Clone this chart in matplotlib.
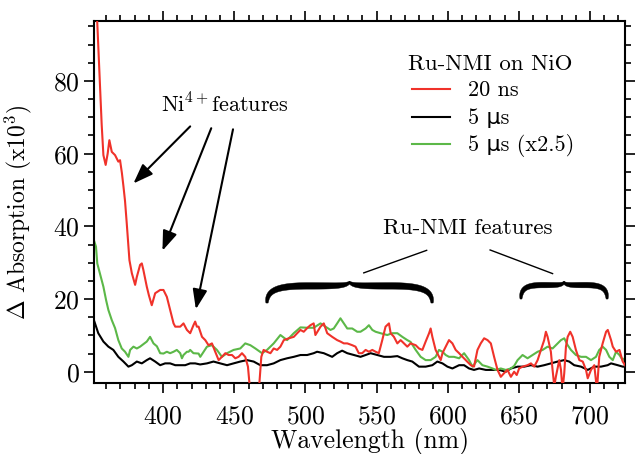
import numpy as np
import matplotlib
matplotlib.use("Agg")
import matplotlib.pyplot as plt

plt.rcParams['font.family'] = ['cmr10', 'DejaVu Sans']
plt.rcParams['mathtext.fontset'] = 'cm'
plt.rcParams['axes.unicode_minus'] = False
plt.rcParams['axes.formatter.use_mathtext'] = True

# ---------------- data ----------------
red_wl = [351, 353.7, 355.5, 356.8, 358, 359.6, 361, 362.2, 363.9, 366.2, 368.5, 369.7, 371, 372.1, 373.2,
          374.4, 376.3, 378, 380.3, 381.5, 383.8, 385, 386.1, 388.5, 390, 392, 394.4, 397.9, 400.2, 402.6,
          404.9, 407.3, 408.5, 412, 414.3, 416.7, 419, 421.3, 422.5, 423.7, 424.9, 427.3, 429.6, 431.9,
          434.3, 436.6, 439, 441.3, 443.7, 446, 448.4, 450.7, 453, 455.4, 457.7, 459.6, 461.3, 463, 465.5,
          467.1, 469, 470.6, 473, 475.4, 477.7, 480.1, 482.4, 484.8, 488.3, 491.8, 494.2, 496.5, 498.8,
          501.2, 503.5, 505.8, 507, 510.6, 512.9, 515.3, 518.8, 522.3, 524.6, 527, 529.4, 532.9, 535.2,
          537.5, 539.9, 542.3, 544.6, 547, 549.3, 551.6, 554, 556.3, 558.7, 559.9, 562.2, 564.6, 566.9,
          569.2, 571.6, 573.9, 577.5, 579.8, 582.2, 584.5, 586.9, 588, 589.2, 591.5, 593.9, 595.1, 596.3,
          598.6, 600.9, 603.3, 605.6, 608, 610.4, 612.7, 616.2, 618.5, 620.9, 623.2, 625.6, 628, 630.3,
          632.6, 635, 637.3, 639.6, 642, 644.4, 646.7, 648.5, 650.2, 652.6, 656.1, 658.5, 660.8, 663.2,
          665.5, 667.8, 669, 670.2, 672.5, 673.7, 674.9, 676, 678.4, 679.6, 680.7, 681.9, 683.1, 684.3,
          686.1, 687.8, 690.1, 692.5, 694.9, 697.2, 698.4, 700.7, 703, 704.9, 706.5, 708.9, 711.3, 712.5,
          714.8, 716, 718.3, 720.7, 723, 725.3]
red_val = [110, 96, 80, 68, 59.6, 56.9, 60, 63.7, 60.5, 59.6, 57.8, 58.2, 54.7, 51, 47,
           40.9, 30.7, 27.1, 23.9, 26.1, 29.4, 29.8, 28, 23.4, 21, 18.3, 21.6, 22.5, 22.5, 20.6,
           17, 13.3, 12.4, 12.4, 13.3, 11.5, 10.6, 12.8, 13.8, 12.4, 12.4, 9.6, 8.7, 7.3,
           7.8, 5.5, 3.2, 4.1, 5.1, 4.6, 4.6, 3.7, 4.1, 5.1, 4.1, 1.4, -6, -12, -12,
           -6, 4.1, 6, 5.5, 5.1, 6.4, 6, 6.9, 8.7, 9.2, 9.6, 10.6, 11.5, 11,
           12, 12.8, 13.3, 10.1, 12.4, 13.3, 10.6, 9.6, 8.7, 8.3, 7.8, 7.8, 7.3, 6.9,
           5.1, 5.1, 6, 5.5, 6, 5.5, 5.1, 8.7, 12.4, 13.3, 10.6, 9.6, 7.8, 8.7,
           7.8, 6.9, 7.8, 7.3, 6.4, 6, 8.3, 10.6, 11.9, 9.6, 6, 4.1, 3.2, 5.1,
           6.9, 8.7, 7.8, 6, 5.1, 4.1, 3.2, 1.8, 1.4, 6, 7.8, 9.2, 8.7, 7.8,
           4.1, 0.5, -1.4, -0.4, 0.5, -1.4, 0, -0.9, 0.9, 1.4, 1.8, 2.3, 1.4, 3.2,
           6, 8.7, 11, 9.6, 5.5, 0.5, -4, -1.4, 3.2, 0.5, -5, -0.4, 6.9, 9.6,
           11, 9.6, 6, 3.2, 2.8, 0.5, -1.8, 0.5, 1.8, -5, 4.1, 7.8, 11, 11.5,
           8.7, 6.9, 5.5, 6, 2.8, 1.4]

green_wl = [351.5, 352.8, 353.7, 355.6, 358, 359.9, 361.5, 363.9, 366.2, 368.5, 370.9, 373.2, 375.6, 376.8,
            379.1, 381.5, 383.8, 386.1, 388.5, 390.8, 393.2, 395.6, 397.9, 400.2, 402.6, 404.9, 407.3,
            409.6, 412, 413.2, 414.3, 416.7, 417.9, 419, 421.3, 424.9, 426.1, 430.8, 434.3, 437.8, 441.3,
            444.9, 449.5, 454.2, 457.7, 461.3, 464.8, 469.5, 473, 477.7, 482.4, 487.1, 491.8, 496.5,
            501.2, 505.8, 510.6, 514.1, 517.6, 519.9, 522.3, 524.6, 527, 529.4, 532.9, 536.4, 538.7,
            542.3, 544.6, 547, 549.3, 552.8, 557.5, 561, 564.6, 568.1, 571.6, 573.9, 577.5, 581, 584.5,
            588, 591.5, 593.9, 596.3, 598.6, 600.9, 604.4, 608, 611.5, 615, 617.4, 620.9, 624.4, 628,
            631.5, 633.8, 637.3, 640.8, 644.4, 646.7, 649.1, 652.6, 656.1, 659.6, 663.2, 666.7, 670.2,
            673.7, 677.3, 679.6, 681.9, 684.3, 686.6, 690.1, 693.7, 697.2, 700.7, 704.2, 706.5, 708.9,
            711.3, 713.6, 716, 718.3, 720.7, 723, 725.3]
green_val = [36, 34.4, 29.8, 27, 23.4, 19.7, 17, 14.2, 12, 8.7, 6.4, 5.5, 4.1, 6,
             6.9, 6.4, 6.9, 7.6, 8.3, 9.6, 7.8, 7, 5.1, 5, 5.5, 5.1, 5.5,
             6, 5.1, 3.7, 4.6, 5.5, 5.5, 6, 5.1, 5, 4.1, 6.9, 7.3, 6, 4.1,
             5.1, 6, 6.4, 7.8, 7.3, 6.4, 5.1, 6, 7.8, 10.1, 8.7, 10.6, 12.2,
             12.1, 12.1, 13.3, 12.4, 11.5, 11.9, 13.3, 14.7, 13.3, 11.9, 11.9, 11, 11,
             11.9, 12.8, 11.5, 11, 10.6, 10.1, 10.6, 10.6, 9.6, 8.7, 8.2, 6, 4.1, 3.2,
             3.2, 4.1, 6, 5.5, 4.6, 4.1, 4.1, 3.7, 5.1, 3.2, 1.4, 3.2, 1.8, 1.4,
             0.9, 0.5, 0.9, 0.5, 0.9, 1.6, 3.2, 4.6, 3.7, 4.6, 5.5, 6, 6.9,
             6.4, 7.8, 8.7, 9.2, 7.3, 6, 4.6, 4.1, 4.1, 3.2, 4.1, 6, 6.9,
             6, 4.1, 3.2, 5.5, 4.6, 3.2, 4.1]

black_wl = [351.5, 352.1, 354.4, 358, 361.5, 365, 368.5, 372.1, 375.6, 378, 381.5, 385, 388.5, 390.8,
            394.4, 397.9, 401.4, 404.9, 408.5, 412, 415.5, 419, 422.5, 426, 430.8, 435.4, 440.1, 444.9,
            449.5, 454.2, 458.9, 463.6, 468.3, 473, 477.7, 482.4, 487.1, 491.8, 496.5, 501.2, 505.8,
            508.2, 512.9, 518.8, 522.3, 525.8, 529.4, 534.1, 538.7, 542.3, 545.8, 550.5, 555.2, 559.9,
            564.6, 568.1, 571.6, 575.1, 579.8, 584.5, 589.2, 592.7, 596.3, 599.8, 603.3, 608, 611.5,
            615, 618.5, 622.1, 626.8, 631.5, 636.2, 640.8, 644.4, 649.1, 653.8, 658.5, 663.2, 667.8,
            672.5, 677.3, 681.9, 685.4, 688.9, 693.7, 698.4, 703, 707.7, 712.4, 714.8, 719.5, 723, 725.3]
black_val = [14, 13.3, 10.6, 8.3, 6.9, 6, 4.1, 2.8, 1.4, 1.8, 2.8, 2.3, 3.2, 3.7,
             2.8, 1.8, 2.3, 2.3, 1.8, 1.8, 1.8, 2.3, 2.3, 2.0, 2.3, 2.8, 2.3, 1.8,
             2.3, 2.8, 3.2, 2.8, 1.8, 1.8, 2.3, 3.2, 3.7, 4.1, 4.6, 4.6, 5.1,
             5.5, 5.1, 4.1, 5.1, 5.8, 5.1, 4.6, 4.1, 4.6, 5.1, 4.6, 4.1, 4.1,
             4.3, 3.7, 3.2, 2.8, 1.4, 1.4, 1.8, 2.8, 2.3, 1.4, 0.9, 1.8, 1.8,
             0.9, 0.5, 0.9, 0.5, 0.5, 0.5, 0, 0.9, 1.4, 1.4, 1.8, 1.4, 1.8,
             2.3, 2.8, 3.2, 2.8, 1.8, 1.4, 0.5, 1.4, 1.4, 1.8, 2.3, 1.8, 1.4, 1.4]

series_labels = ['20 ns', '5 μs', '5 μs (x2.5)']
series_colors = ['#f0322a', '#000000', '#5cb848']
legend_title = 'Ru-NMI on NiO'

x_ticks = [400, 450, 500, 550, 600, 650, 700]
y_ticks = [0, 20, 40, 60, 80]

# ---------------- figure ----------------
fig = plt.figure(figsize=(6.35, 4.54), dpi=100)
ax = fig.add_axes([94/635, 1-383/454, (625-94)/635, (383-21)/454])

ax.plot(red_wl, red_val, color=series_colors[0], lw=1.5, zorder=3, label=series_labels[0])
ax.plot(black_wl, black_val, color=series_colors[1], lw=1.5, zorder=2, label=series_labels[1])
ax.plot(green_wl, green_val, color=series_colors[2], lw=1.5, zorder=2.5, label=series_labels[2])

ax.set_xlim(351.4, 724.6)
ax.set_ylim(-3.1, 96.5)
ax.set_xticks(x_ticks)
ax.set_yticks(y_ticks)
ax.set_xticks(np.arange(360, 725, 10), minor=True)
ax.set_yticks(np.arange(0, 96, 5), minor=True)
for s in ax.spines.values():
    s.set_linewidth(1.5)
ax.tick_params(which='both', direction='out', top=True, right=True, width=1.2)
ax.tick_params(which='major', length=7.5, labelsize=18.5)
ax.tick_params(which='minor', length=4.2)
ax.tick_params(axis='x', which='major', pad=8)
ax.tick_params(axis='y', which='major', pad=3)

ax.set_xlabel('Wavelength (nm)', fontsize=18.5)
ax.set_ylabel(r'$\mathbf{\Delta}$ Absorption (x10$^3$)', fontsize=17)
ax.xaxis.set_label_coords(0.52, -0.124)
ax.yaxis.set_label_coords(-0.113, 0.472)

# legend (drawn as text + handle lines in axes fraction so the rows are evenly spaced)
leg_fs = 16
ax.text(0.7458, 0.8646, legend_title, transform=ax.transAxes, fontsize=16.5,
        ha='center', va='baseline')
row_line_y = [0.8113, 0.7356, 0.6602]
for lab, col, ly in zip(series_labels, series_colors, row_line_y):
    ax.plot([0.5989, 0.6704], [ly, ly], transform=ax.transAxes, color=col, lw=1.5, clip_on=False)
    ax.text(0.7043, ly - 0.0193, lab, transform=ax.transAxes, fontsize=leg_fs,
            ha='left', va='baseline')

# annotations: Ni4+ features
ax.text(443.6, 73.4, r'Ni$^{4+}$features', fontsize=16, ha='center', va='center')
arrows = [((419, 67.5), (379.1, 51.8)), ((433.8, 67), (399.5, 33.3)), ((449.1, 66.7), (423, 17.2))]
for start, tip in arrows:
    ax.annotate('', xy=tip, xytext=start,
                arrowprops=dict(arrowstyle='-|>,head_length=0.6,head_width=0.22', lw=1.5,
                                color='k', mutation_scale=20, shrinkA=0, shrinkB=0))

# annotations: Ru-NMI features
ax.text(614.4, 39.5, 'Ru-NMI features', fontsize=16.5, ha='center', va='center')
ax.plot([585.2, 541], [33.4, 27.2], color='k', lw=1.0)
ax.plot([629.8, 673.7], [33.5, 27.0], color='k', lw=1.0)


def bez(p0, p1, p2, p3, t):
    t = t[:, None]
    return ((1-t)**3)*p0 + 3*((1-t)**2)*t*p1 + 3*(1-t)*(t**2)*p2 + (t**3)*p3


def brace(ax, x0, x1, ybase, ytip, thick):
    P0 = ax.transData.transform((x0, ybase))
    P1 = ax.transData.transform((x1, ybase))
    PT = ax.transData.transform(((x0 + x1) / 2, ytip))
    hw = (P1[0] - P0[0]) / 2
    H = PT[1] - P0[1]
    t = np.linspace(0, 1, 80)
    q1 = bez(np.array([0, 0]), np.array([0, 0.6]), np.array([0.12, 0.8]), np.array([0.5, 0.8]), t)
    q2 = bez(np.array([0.5, 0.8]), np.array([0.82, 0.8]), np.array([0.98, 0.78]), np.array([1, 1]), t)[1:]
    w1 = thick * (0.3 + 0.7 * np.sin(np.pi / 2 * t) ** 0.6)
    w2 = thick * (0.12 + 0.88 * np.cos(np.pi / 2 * t[1:]) ** 0.6)
    c = np.vstack([q1, q2])
    w = np.concatenate([w1, w2])
    px = P0[0] + c[:, 0] * hw
    py = P0[1] + c[:, 1] * H
    dx = np.gradient(px)
    dy = np.gradient(py)
    n = np.hypot(dx, dy)
    nx, ny = -dy / n, dx / n
    upx, upy = px + nx * w / 2, py + ny * w / 2
    lox, loy = px - nx * w / 2, py - ny * w / 2
    cx = P0[0] + hw
    up_x = np.concatenate([upx, 2 * cx - upx[::-1]])
    up_y = np.concatenate([upy, upy[::-1]])
    lo_x = np.concatenate([lox, 2 * cx - lox[::-1]])
    lo_y = np.concatenate([loy, loy[::-1]])
    X = np.concatenate([up_x, lo_x[::-1]])
    Y = np.concatenate([up_y, lo_y[::-1]])
    data = ax.transData.inverted().transform(np.column_stack([X, Y]))
    ax.fill(data[:, 0], data[:, 1], color='k', lw=0.3, zorder=4)


brace(ax, 473, 589, 18.9, 24.8, 6.5)
brace(ax, 651.5, 712, 20.0, 24.8, 5.5)

fig.savefig('out.png', dpi=100)
